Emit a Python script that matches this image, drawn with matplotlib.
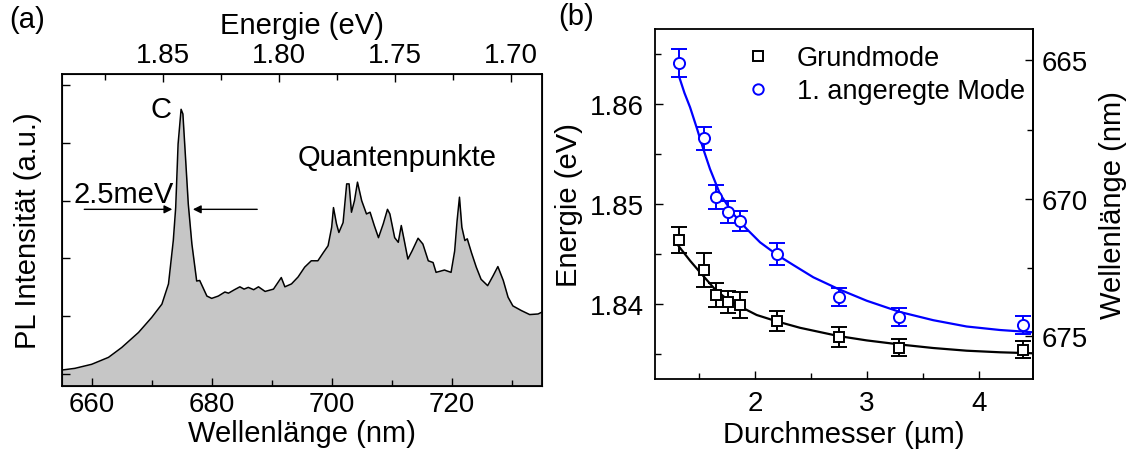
import matplotlib
matplotlib.use('Agg')
import matplotlib.pyplot as plt
from matplotlib.lines import Line2D

plt.rcParams['font.family'] = ['Liberation Sans', 'DejaVu Sans']
plt.rcParams['xtick.direction'] = 'in'
plt.rcParams['ytick.direction'] = 'in'

# (a) PL spectrum, wavelength (nm) / intensity (a.u.)
wl = [655.0, 657.2, 660.0, 662.8, 665.0, 667.8, 670.0, 671.7, 672.8, 673.6,
      674.0, 674.4, 674.9, 675.2, 675.6, 676.1, 676.7, 677.5, 678.0, 678.4,
      679.2, 680.0, 681.1, 682.2, 682.8, 683.8, 684.7, 685.4, 686.1, 687.0,
      687.8, 688.9, 690.3, 691.6, 692.2, 693.3, 694.4, 695.5, 696.6, 697.7,
      698.6, 699.4, 700.0, 700.3, 700.8, 701.2, 701.9, 702.5, 702.9, 703.3,
      703.8, 704.3, 705.0, 705.8, 706.4, 707.1, 707.8, 708.6, 709.3, 709.7,
      710.5, 711.1, 711.6, 712.1, 712.7, 713.4, 714.4, 715.2, 716.1, 716.9,
      717.4, 718.8, 719.9, 720.5, 720.9, 721.3, 721.7, 722.2, 722.6, 723.3,
      724.1, 724.9, 726.0, 726.9, 727.7, 728.6, 729.4, 730.2, 731.6, 733.0,
      734.4, 735.0]
pl = [0.07, 0.10, 0.17, 0.29, 0.46, 0.72, 0.98, 1.21, 1.56, 2.31,
      2.88, 3.98, 4.58, 4.50, 3.81, 2.94, 2.25, 1.61, 1.62, 1.53,
      1.35, 1.31, 1.35, 1.42, 1.40, 1.46, 1.51, 1.47, 1.50, 1.46,
      1.51, 1.43, 1.47, 1.67, 1.51, 1.56, 1.68, 1.85, 1.96, 1.96,
      2.10, 2.22, 2.54, 2.88, 2.60, 2.45, 2.62, 3.29, 3.29, 2.80,
      3.00, 3.32, 3.00, 2.77, 2.80, 2.57, 2.36, 2.60, 2.85, 2.77,
      2.36, 2.28, 2.57, 2.31, 1.99, 2.13, 2.35, 2.25, 1.96, 1.93,
      1.76, 1.80, 1.76, 2.13, 2.65, 3.06, 2.54, 2.31, 2.34, 2.10,
      1.85, 1.64, 1.53, 1.70, 1.86, 1.62, 1.33, 1.18, 1.10, 1.03,
      1.04, 1.07]

# (b) mode energies vs. diameter
d = [1.324, 1.545, 1.652, 1.762, 1.866, 2.199, 2.75, 3.29, 4.39]
e_grund = [1.84643, 1.8434, 1.8409, 1.84023, 1.8399, 1.83833, 1.83673, 1.8356, 1.83543]
err_grund = [0.0013, 0.0017, 0.00125, 0.0011, 0.0013, 0.001, 0.001, 0.00085, 0.00085]
e_anger = [1.86407, 1.85657, 1.85073, 1.84917, 1.84827, 1.845, 1.84067, 1.83873, 1.8379]
err_anger = [0.0014, 0.00117, 0.0012, 0.0011, 0.001, 0.0011, 0.0009, 0.0009, 0.00087]

# fit curves as drawn
fit_d_anger = [1.324, 1.37, 1.42, 1.48, 1.538, 1.598, 1.6875, 1.806, 1.926, 2.045, 2.199, 2.342,
               2.521, 2.744, 2.997, 3.295, 3.592, 3.89, 4.187, 4.485]
fit_e_anger = [1.86267, 1.8611, 1.85967, 1.8576, 1.8555, 1.8535, 1.851, 1.849, 1.8475, 1.84617,
               1.8449, 1.8439, 1.84267, 1.8415, 1.84033, 1.8392, 1.83838, 1.83775, 1.8374, 1.83717]
fit_d_grund = [1.315, 1.42, 1.509, 1.64, 1.747, 1.866, 2.015, 2.199, 2.402, 2.744, 2.997,
               3.295, 3.59, 3.89, 4.19, 4.485]
fit_e_grund = [1.84583, 1.84433, 1.84317, 1.8415, 1.8405, 1.83975, 1.8389, 1.83825, 1.83762,
               1.8368, 1.83636, 1.83595, 1.8356, 1.83533, 1.83517, 1.83507]

HC = 1239.84
FS = 21
TS = 20

fig = plt.figure(figsize=(11.28, 4.52), dpi=100)

# ---------- panel (a)
ax1 = fig.add_axes([0.0547, 0.1445, 0.4255, 0.6895])
ax1.fill_between(wl, pl, -0.2, color='#c6c6c6', lw=0)
ax1.plot(wl, pl, color='black', lw=1.1)
ax1.set_xlim(655, 735)
ax1.set_ylim(-0.2, 5.19)
ax1.set_xticks([660, 680, 700, 720])
ax1.set_xticks([670, 690, 710, 730], minor=True)
ax1.set_yticks(range(0, 6))
ax1.set_yticklabels([])
ax1.tick_params(which='major', length=6, width=1, labelsize=TS, pad=4)
ax1.tick_params(which='minor', length=4, width=1)
ax1.set_xlabel('Wellenlänge (nm)', fontsize=FS, labelpad=1)
ax1.set_ylabel('PL Intensität (a.u.)', fontsize=FS, labelpad=10)
for s in ax1.spines.values():
    s.set_linewidth(1.3)

top = ax1.twiny()
top.set_xlim(1.8935, 1.6868)
top.set_xticks([1.85, 1.80, 1.75, 1.70])
top.set_xticklabels(['1.85', '1.80', '1.75', '1.70'])
top.set_xticks([1.875, 1.825, 1.775, 1.725], minor=True)
top.tick_params(which='major', length=6, width=1, labelsize=TS, pad=4)
top.tick_params(which='minor', length=4, width=1)
top.set_xlabel('Energie (eV)', fontsize=FS, labelpad=7)

ax1.text(671.55, 4.58, 'C', fontsize=FS, ha='center', va='center')
ax1.text(656.9, 3.11, '2.5meV', fontsize=FS, ha='left', va='center')
ax1.text(710.9, 3.75, 'Quantenpunkte', fontsize=FS, ha='center', va='center')
arrow_y = 2.85
ax1.annotate('', xy=(673.9, arrow_y), xytext=(658.3, arrow_y),
             arrowprops=dict(arrowstyle='-|>', color='black', lw=1, mutation_scale=12))
ax1.annotate('', xy=(676.4, arrow_y), xytext=(688.05, arrow_y),
             arrowprops=dict(arrowstyle='-|>', color='black', lw=1, mutation_scale=12))

fig.text(0.008, 0.955, '(a)', fontsize=FS, va='center')
fig.text(0.495, 0.962, '(b)', fontsize=FS, va='center')

# ---------- panel (b)
ax2 = fig.add_axes([0.5807, 0.1593, 0.3353, 0.7743])
ax2.plot(fit_d_anger, fit_e_anger, color='#0000ff', lw=1.6)
ax2.plot(fit_d_grund, fit_e_grund, color='black', lw=1.6)
ax2.errorbar(d, e_grund, yerr=err_grund, fmt='s', color='black', mfc='white', mec='black',
             ms=7.5, mew=1.4, capsize=5.5, elinewidth=1.4, capthick=1.4)
ax2.errorbar(d, e_anger, yerr=err_anger, fmt='o', color='#0000ff', mfc='white', mec='#0000ff',
             ms=8, mew=1.4, capsize=5.5, elinewidth=1.4, capthick=1.4)
ax2.set_xlim(1.107, 4.485)
ax2.set_ylim(1.8325, 1.8675)
ax2.set_xticks([2, 3, 4])
ax2.set_xticks([1.5, 2.5, 3.5], minor=True)
ax2.set_yticks([1.84, 1.85, 1.86])
ax2.set_yticklabels(['1.84', '1.85', '1.86'])
ax2.set_yticks([1.835, 1.845, 1.855, 1.865], minor=True)
ax2.tick_params(which='major', length=6, width=1, labelsize=TS)
ax2.tick_params(axis='x', which='major', pad=8)
ax2.tick_params(axis='y', which='major', pad=8)
ax2.tick_params(which='minor', length=4, width=1)
ax2.set_xlabel('Durchmesser (µm)', fontsize=FS, labelpad=3)
ax2.set_ylabel('Energie (eV)', fontsize=FS, labelpad=5)
for s in ax2.spines.values():
    s.set_linewidth(1.3)

sec = ax2.secondary_yaxis('right', functions=(lambda e: HC / e, lambda l: HC / l))
sec.set_yticks([665, 670, 675])
sec.set_yticks([667.5, 672.5], minor=True)
sec.tick_params(which='major', length=6, width=1, labelsize=TS, direction='in', pad=6)
sec.tick_params(which='minor', length=4, width=1, direction='in')
sec.set_ylabel('Wellenlänge (nm)', fontsize=FS, labelpad=8)
sec.spines['right'].set_linewidth(1.3)

h_grund = Line2D([], [], ls='none', marker='s', ms=7, mew=1.4, mfc='white', mec='black')
h_anger = Line2D([], [], ls='none', marker='o', ms=7.5, mew=1.4, mfc='white', mec='#0000ff')
ax2.legend([h_grund, h_anger], ['Grundmode', '1. angeregte Mode'],
           loc='upper left', bbox_to_anchor=(0.2366, 0.953), frameon=False, fontsize=19.5,
           handlelength=1.0, handletextpad=0.94, labelspacing=0.255, borderaxespad=0, borderpad=0)

fig.savefig('out.png', dpi=100)
